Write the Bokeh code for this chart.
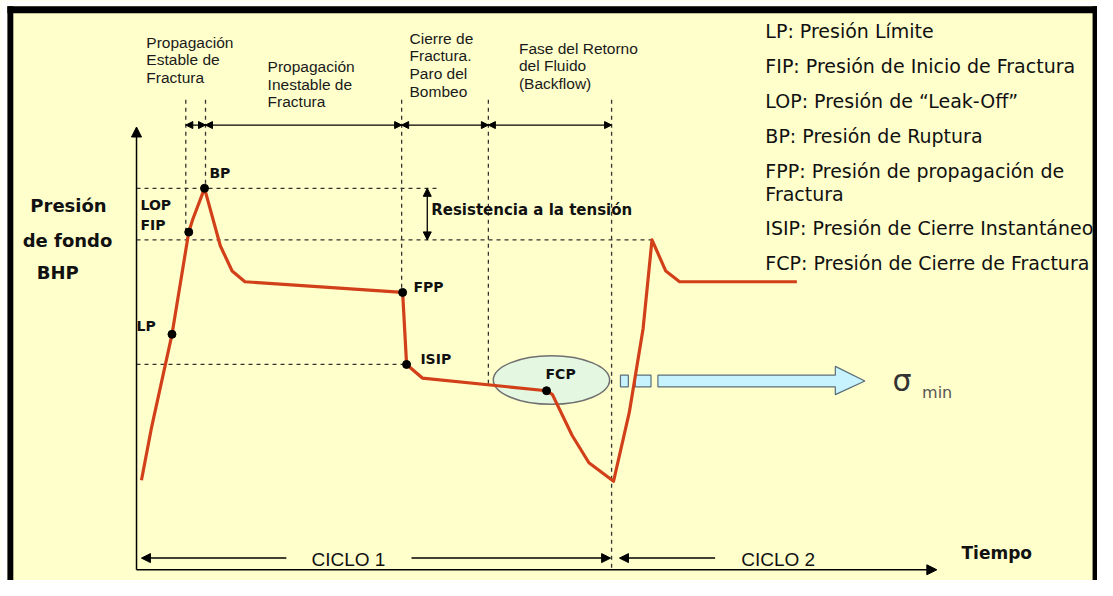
from bokeh.plotting import figure
from bokeh.models import Range1d, Arrow, NormalHead, Label
from bokeh.embed import file_html
from bokeh.resources import INLINE

# ---------------- data (schematic units: time ~ px, pressure ~ px upward) ----
H = 596   # reference height, pressure = H - y_ref
WREF = 1113

curve_time = [143, 153, 174, 191, 195, 207, 223, 235, 248, 408, 412, 428, 554, 560,
              580, 597, 622, 638, 652, 661, 675, 689, 808]
curve_pressure = [103, 156, 253, 358, 371, 403, 344, 318, 307, 296, 222, 208, 195, 191,
                  149, 121, 102, 173, 259, 350, 318, 307, 307]

point_names = ["LP", "FIP", "BP", "FPP", "ISIP", "FCP"]
point_time = [174, 191, 207, 408, 412, 554]
point_pressure = [253, 358, 403, 296, 222, 195]

phase_bounds = [188, 208, 407, 495, 620]
phase_labels = [
    ["Propagación", "Estable de", "Fractura"],
    ["Propagación", "Inestable de", "Fractura"],
    ["Cierre de", "Fractura.", "Paro del", "Bombeo"],
    ["Fase del Retorno", "del Fluido", "(Backflow)"],
]
legend_lines = [
    "LP: Presión Límite",
    "FIP: Presión de Inicio de Fractura",
    "LOP: Presión de \u201cLeak-Off\u201d",
    "BP: Presión de Ruptura",
    "FPP: Presión de propagación de",
    "Fractura",
    "ISIP: Presión de Cierre Instantáneo",
    "FCP: Presión de Cierre de Fractura",
]

# ---------------- figure ----------------
W, HH = 1097, 580
p = figure(width=W, height=HH, x_range=Range1d(0, WREF), y_range=Range1d(0, H),
           output_backend="svg", toolbar_location=None, min_border=0,
           x_axis_type=None, y_axis_type=None)
p.grid.visible = False
p.outline_line_color = None
BG = "#FFFFCC"
p.background_fill_color = BG
p.border_fill_color = BG

def Y(y):
    return H - y

def label(x, y, text, size="14px", bold=False, font="DejaVu Sans", color="#111111",
          align="left"):
    p.add_layout(Label(x=x, y=Y(y), text=text, text_font=font, text_font_size=size,
                       text_font_style="bold" if bold else "normal",
                       text_color=color, text_baseline="middle", text_align=align))

DASH = "4 4"
DCOL = "#333333"

# white page edge and frame border (top, left, right)
p.quad(left=[0, 0], right=[WREF, 7], top=[Y(0), Y(0)], bottom=[Y(6), Y(600)],
       fill_color="white", line_color=None)
p.quad(left=[7, 7, 1108], right=[WREF, 13, WREF], top=[Y(6), Y(6), Y(6)],
       bottom=[Y(13), Y(600), Y(600)], fill_color="black", line_color=None)

# dashed reference levels
p.segment(x0=[138, 138, 138], y0=[point_pressure[2], curve_pressure[19], point_pressure[4]],
          x1=[445, 660, 412], y1=[point_pressure[2], curve_pressure[19], point_pressure[4]],
          line_color=DCOL, line_dash=DASH, line_width=1.3)
# dashed phase separators
sep_bottom = [point_pressure[1], point_pressure[2], point_pressure[3], Y(395), Y(585)]
p.segment(x0=phase_bounds, y0=[Y(102)] * 5, x1=phase_bounds, y1=sep_bottom,
          line_color=DCOL, line_dash=DASH, line_width=1.3)

# phase arrows at top
for a, b in zip(phase_bounds[:-1], phase_bounds[1:]):
    p.add_layout(Arrow(x_start=a, y_start=Y(128), x_end=b, y_end=Y(128),
                       start=NormalHead(size=7, fill_color="black", line_color="black"),
                       end=NormalHead(size=7, fill_color="black", line_color="black"),
                       line_width=1.3, line_color="black"))

# phase labels
phase_x = [148, 271, 415, 526]
phase_y0 = [43, 68, 39, 49]
for lines, x0, y0 in zip(phase_labels, phase_x, phase_y0):
    for i, t in enumerate(lines):
        label(x0, y0 + i * 18, t, size="15.5px", font="Liberation Sans", color="#1a1a1a")

# axes
p.add_layout(Arrow(x_start=138, y_start=Y(585), x_end=138, y_end=Y(130),
                   end=NormalHead(size=10, fill_color="black", line_color="black"),
                   line_width=1.5, line_color="black"))
p.add_layout(Arrow(x_start=138, y_start=Y(585), x_end=950, y_end=Y(585),
                   end=NormalHead(size=10, fill_color="black", line_color="black"),
                   line_width=1.5, line_color="black"))

# tension resistance arrow
mid = (point_pressure[2] + curve_pressure[19]) / 2
for target in (point_pressure[2], curve_pressure[19]):
    p.add_layout(Arrow(x_start=433, y_start=mid, x_end=433, y_end=target,
                       end=NormalHead(size=8, fill_color="black", line_color="black"),
                       line_width=1.3))
label(437, 215, "Resistencia a la tensión", size="15px", bold=True)

# FCP ellipse
p.ellipse(x=[559], y=[Y(390)], width=118, height=50, fill_color="#E4F7E0",
          line_color="#707070", line_width=1.5)

# sigma_min arrow
ARROW_FILL = "#C6F3FD"
ARROW_LINE = "#5A6E7A"
p.quad(left=[629, 644], right=[637, 660], top=[Y(385), Y(385)], bottom=[Y(397), Y(397)],
       fill_color=ARROW_FILL, line_color=ARROW_LINE, line_width=1.2)
p.patch(x=[667, 847, 847, 877, 847, 847, 667],
        y=[Y(385), Y(385), Y(376), Y(391), Y(405), Y(397), Y(397)],
        fill_color=ARROW_FILL, line_color=ARROW_LINE, line_width=1.2)
label(905, 390, "σ", size="30px", font="DejaVu Sans", color="#333333")
label(935, 403, "min", size="16px", font="DejaVu Sans", color="#555555")

# pressure curve
p.line(curve_time, curve_pressure, line_color="#D2401A", line_width=3.2,
       line_join="round")
p.scatter(point_time, point_pressure, size=8, fill_color="black", line_color="black")

# point labels
label(212, 177, "BP", size="14px", bold=True)
label(142, 210, "LOP", size="14px", bold=True)
label(142, 231, "FIP", size="14px", bold=True)
label(138, 334, "LP", size="14px", bold=True)
label(419, 294, "FPP", size="14px", bold=True)
label(426, 368, "ISIP", size="14px", bold=True)
label(553, 384, "FCP", size="14px", bold=True)

# y axis title
label(69, 211, "Presión", size="18px", bold=True, align="center")
label(68, 247, "de fondo", size="18px", bold=True, align="center")
label(58, 280, "BHP", size="18px", bold=True, align="center")

# time / cycles
label(975, 568, "Tiempo", size="17px", bold=True)
for xs, xe in ((290, 143), (417, 619), (725, 628)):
    p.add_layout(Arrow(x_start=xs, y_start=Y(573), x_end=xe, y_end=Y(573),
                       end=NormalHead(size=9, fill_color="black", line_color="black"),
                       line_width=1.5))
label(353, 574, "CICLO 1", size="19px", font="Liberation Sans", align="center")
label(789, 574, "CICLO 2", size="19px", font="Liberation Sans", align="center")

# legend text on the right
legend_y = [31, 67, 103, 139, 175, 199, 234, 270]
for t, yy in zip(legend_lines, legend_y):
    label(776, yy, t, size="19px", font="DejaVu Sans", color="#111111")

open("out.html", "w").write(file_html(p, INLINE))
